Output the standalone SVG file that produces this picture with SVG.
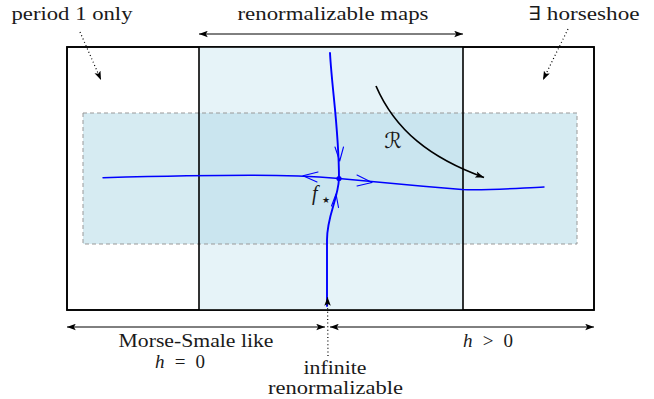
<svg xmlns="http://www.w3.org/2000/svg" width="654" height="399" viewBox="0 0 654 399">
<style>
text{font-family:"Liberation Serif","DejaVu Serif",serif;font-size:19px;fill:#1a1a1a}
.blk{fill:none;stroke:#000;stroke-width:1.6}
.blue{fill:none;stroke:#0000ff;stroke-width:1.4;stroke-linecap:round;stroke-linejoin:round}
.bluev{fill:none;stroke:#0000ff;stroke-width:1.9;stroke-linecap:round;stroke-linejoin:round}
.ah{fill:none;stroke:#0000ff;stroke-width:1.1;stroke-linecap:round;stroke-linejoin:round}
.arr{fill:none;stroke:#000;stroke-width:1}
.rarr{fill:none;stroke:#000;stroke-width:1.7}
.dot{fill:none;stroke:#000;stroke-width:1.2;stroke-dasharray:1 2.6}
.math{font-style:italic;font-size:20px}
.star{font-family:"DejaVu Sans",sans-serif;font-size:9px}
.cal{font-family:"DejaVu Serif","DejaVu Sans",serif;font-size:22px}
</style>
<defs>
<marker id="hd" viewBox="0 0 10 8" markerWidth="9" markerHeight="7" refX="10" refY="4" orient="auto-start-reverse" markerUnits="userSpaceOnUse">
<path d="M0,0.3 L10,4 L0,7.7 L2.2,4 z" fill="#000"/>
</marker>
</defs>
<g id="outer">
<rect x="67" y="47" width="527" height="263" fill="#fff" stroke="#000" stroke-width="1.6"/>
</g>
<g id="renorm-region">
<rect x="199" y="47" width="264" height="263" fill="rgb(230,243,248)" stroke="none"/>
</g>
<g id="band">
<rect x="83" y="113" width="494" height="131" fill="rgb(173,216,230)" fill-opacity="0.5" stroke="#999" stroke-width="1" stroke-dasharray="4 3"/>
</g>
<g id="frame">
<rect x="67" y="47" width="527" height="263" class="blk"/>
<line x1="199" y1="47" x2="199" y2="310" class="blk"/>
<line x1="463" y1="47" x2="463" y2="310" class="blk"/>
</g>
<g id="fixed-point">
<path class="blue" d="M103,177.7 C150,176.5 200,175.3 250,175.3 C290,175.3 320,177 339,178.5 C370,181.5 420,186 462,189.5 C490,190.5 520,188 544,187"/>
<path class="bluev" d="M330,53 C332,90 339,130 339,178.5"/>
<path class="bluev" d="M339,178.5 C338,200 327,215 327,240 L327,306"/>
<path class="ah" d="M318,172 L303,175.8 L317,182"/>
<path class="ah" d="M357,175 L372,182.5 L357,186"/>
<path class="ah" d="M335,147 L339.7,161 L343.5,147"/>
<path class="ah" d="M331.5,206 L336,194 L338.5,207.5"/>
<circle cx="339" cy="178.5" r="2.6" fill="#0000ff"/>
<text x="312" y="200" class="math">f</text>
<text x="322" y="203" class="star">★</text>
</g>
<g id="renormalization-map">
<path class="rarr" d="M376,86 C395,130 430,158 484,177.5" marker-end="url(#hd)"/>
<text x="393" y="148" text-anchor="middle" class="cal">ℛ</text>
</g>
<g id="labels">
<text x="72" y="20" text-anchor="middle" textLength="121" lengthAdjust="spacingAndGlyphs">period 1 only</text>
<text x="333" y="20" text-anchor="middle" textLength="191" lengthAdjust="spacingAndGlyphs">renormalizable maps</text>
<text x="584" y="20" text-anchor="middle" textLength="111" lengthAdjust="spacingAndGlyphs">∃ horseshoe</text>
<text x="196" y="347" text-anchor="middle" textLength="155" lengthAdjust="spacingAndGlyphs">Morse-Smale like</text>
<text x="180" y="368" text-anchor="middle" textLength="50" lengthAdjust="spacing"><tspan font-style="italic">h</tspan> = 0</text>
<text x="488" y="347" text-anchor="middle" textLength="50" lengthAdjust="spacing"><tspan font-style="italic">h</tspan> &gt; 0</text>
<text x="335" y="374" text-anchor="middle" textLength="63" lengthAdjust="spacingAndGlyphs">infinite</text>
<text x="335.5" y="394" text-anchor="middle" textLength="135" lengthAdjust="spacingAndGlyphs">renormalizable</text>
</g>
<g id="connectors">
<line x1="199" y1="34" x2="463" y2="34" class="arr" marker-start="url(#hd)" marker-end="url(#hd)"/>
<line x1="67" y1="327" x2="325" y2="327" class="arr" marker-start="url(#hd)" marker-end="url(#hd)"/>
<line x1="330" y1="327" x2="594" y2="327" class="arr" marker-start="url(#hd)" marker-end="url(#hd)"/>
<line x1="80" y1="32" x2="101" y2="80" class="dot" marker-end="url(#hd)"/>
<line x1="568" y1="29" x2="543" y2="80" class="dot" marker-end="url(#hd)"/>
<line x1="328" y1="356" x2="327.5" y2="297" class="dot" marker-end="url(#hd)"/>
</g>
</svg>
